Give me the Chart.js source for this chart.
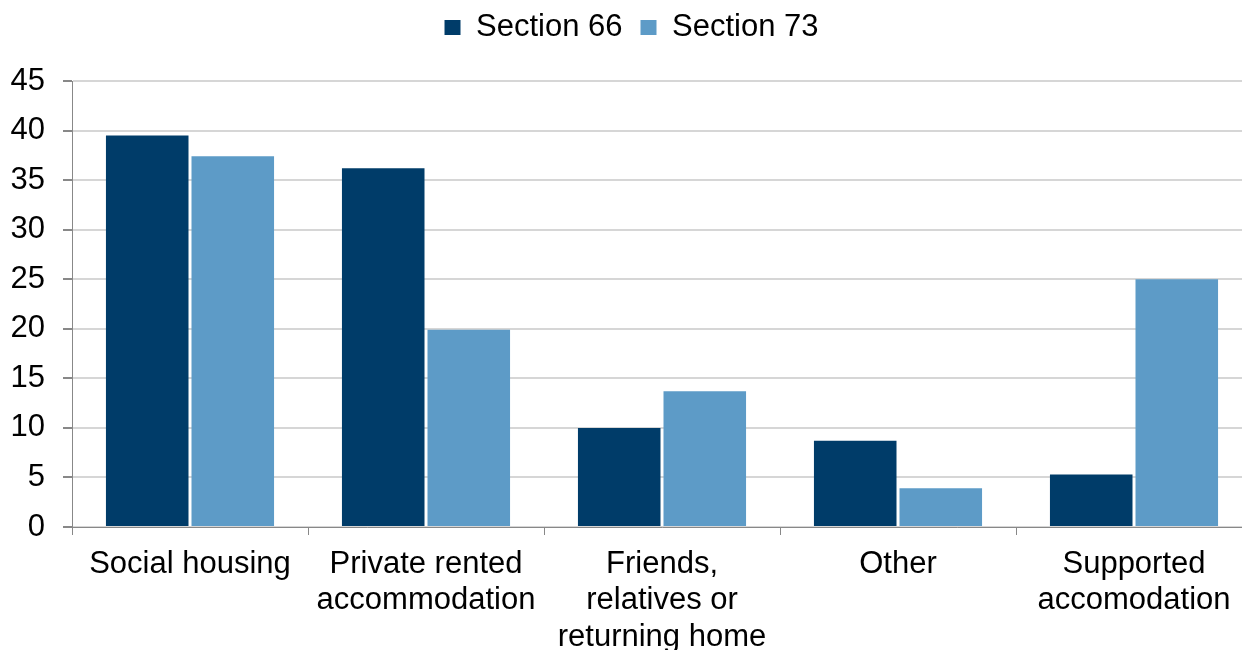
<!DOCTYPE html>
<html>
<head>
<meta charset="utf-8">
<script src="https://cdn.jsdelivr.net/npm/chart.js@4/dist/chart.umd.min.js"></script>
<style>
  html, body { margin: 0; padding: 0; overflow: hidden; background: #fff; }
  #wrap { width: 1252px; height: 662px; }
</style>
</head>
<body>
<div id="wrap"><canvas id="housingChart"></canvas></div>
<script>
const categories = [
    'Social housing',
    ['Private rented', 'accommodation'],
    ['Friends,', 'relatives or', 'returning home'],
    'Other',
    ['Supported', 'accomodation']
];
const section66 = [39.5, 36.2, 10.0, 8.7, 5.3];
const section73 = [37.4, 19.9, 13.7, 3.9, 25.0];
const yTicks = [0, 5, 10, 15, 20, 25, 30, 35, 40, 45];

const font = { family: "'Liberation Sans', Arial, sans-serif", size: 31 };

// add some room under the legend, like the original
const legendGap = {
    id: 'legendGap',
    beforeInit(chart) {
        const fit = chart.legend.fit;
        chart.legend.fit = function() {
            fit.bind(chart.legend)();
            this.height += 28;
        };
    }
};

const ctx = document.getElementById('housingChart').getContext('2d');
const housingChart = new Chart(ctx, {
    type: 'bar',
    data: {
        labels: categories,
        datasets: [{
            label: 'Section 66',
            data: section66,
            backgroundColor: '#003c69'
        }, {
            label: 'Section 73',
            data: section73,
            backgroundColor: '#5d9bc7'
        }]
    },
    options: {
        responsive: true,
        maintainAspectRatio: false,
        animation: false,
        categoryPercentage: 0.725,
        barPercentage: 0.965,
        layout: { padding: { left: 11, top: -6, right: 0, bottom: 0 } },
        plugins: {
            legend: {
                position: 'top',
                labels: {
                    boxWidth: 16,
                    boxHeight: 15,
                    padding: 18,
                    color: '#000',
                    font: font
                }
            },
            tooltip: { enabled: false }
        },
        scales: {
            x: {
                afterFit: function(axis) { axis.height = 135; },
                grid: {
                    offset: true,
                    drawOnChartArea: false,
                    color: '#888',
                    tickLength: 8
                },
                border: { color: '#888', width: 1 },
                ticks: {
                    color: '#000',
                    font: { family: font.family, size: 31, lineHeight: 1.18 },
                    padding: 11,
                    maxRotation: 0,
                    autoSkip: false
                }
            },
            y: {
                min: 0,
                max: 45,
                afterBuildTicks: function(axis) {
                    axis.ticks = yTicks.map(v => ({ value: v }));
                },
                afterFit: function(axis) { axis.width = 61; },
                grid: {
                    color: '#d6d6d6',
                    tickColor: '#888',
                    tickLength: 9,
                    lineWidth: 2
                },
                border: { color: '#888', width: 1 },
                ticks: {
                    color: '#000',
                    font: font,
                    padding: 18
                }
            }
        }
    },
    plugins: [legendGap]
});
</script>
</body>
</html>
